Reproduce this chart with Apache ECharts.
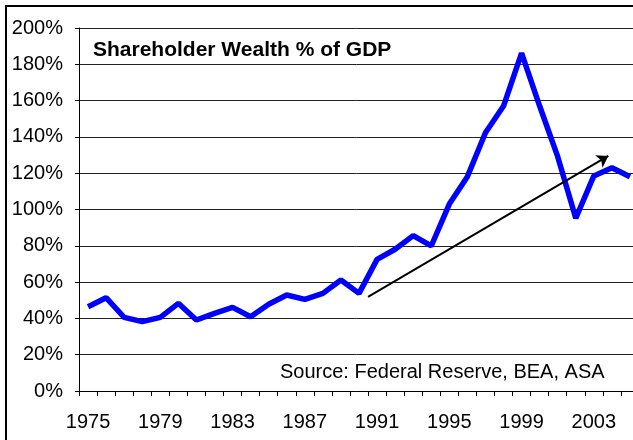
<!DOCTYPE html>
<html>
<head>
<meta charset="utf-8">
<script src="https://cdn.jsdelivr.net/npm/echarts@6/dist/echarts.min.js"></script>
<style>
    html, body { margin: 0; padding: 0; background: #fff; }
    #chart { width: 633px; height: 440px; }
</style>
</head>
<body>
<div id="chart"></div>
<script>
    // years on the category axis
    const years = [1975, 1976, 1977, 1978, 1979, 1980, 1981, 1982, 1983, 1984,
        1985, 1986, 1987, 1988, 1989, 1990, 1991, 1992, 1993, 1994,
        1995, 1996, 1997, 1998, 1999, 2000, 2001, 2002, 2003, 2004, 2005];
    // shareholder wealth as % of GDP
    const wealthPct = [46.4, 51.4, 40.6, 38.2, 40.6, 48.3, 39.1, 42.8, 46.1, 40.9,
        47.8, 52.9, 50.5, 53.8, 61.2, 53.8, 72.5, 78.1, 85.6, 79.9,
        103.0, 118.1, 142.3, 157.0, 186.1, 157.0, 129.1, 95.2, 118.5, 123.0, 118.0];
    // trend arrow, [year, %]
    const arrowFrom = [1990.5, 51.8];
    const arrowTo = [2003.8, 129.5];

    const titleText = 'Shareholder Wealth % of GDP';
    const sourceText = 'Source: Federal Reserve, BEA, ASA';
    const font = 'Liberation Sans, Arial, sans-serif';

    let chart = echarts.init(document.getElementById('chart'));
    chart.setOption({
        animation: false,
        backgroundColor: '#fff',
        grid: {
            left: 79,
            top: 28,
            width: 560,
            height: 363,
            containLabel: false,
            outerBoundsMode: 'none'
        },
        xAxis: [{
            type: 'category',
            data: years,
            boundaryGap: true,
            axisLine: { lineStyle: { color: '#000', width: 1 } },
            axisTick: { show: true, length: 5, interval: 0, lineStyle: { color: '#000' } },
            axisLabel: {
                interval: 3,
                margin: 21,
                color: '#000',
                fontSize: 20,
                fontFamily: font
            },
            splitLine: { show: false }
        }, {
            // hidden numeric axis for the arrow
            type: 'value',
            show: false,
            min: 1974.5,
            max: 2005.5
        }],
        yAxis: {
            type: 'value',
            min: 0,
            max: 200,
            interval: 20,
            axisLine: { show: true, lineStyle: { color: '#000', width: 1 } },
            axisTick: { show: true, length: 4, lineStyle: { color: '#000' } },
            axisLabel: {
                formatter: '{value}%',
                margin: 16,
                color: '#000',
                fontSize: 20,
                fontFamily: font
            },
            splitLine: { show: true, lineStyle: { color: '#222', width: 1 } }
        },
        series: [{
            type: 'line',
            data: wealthPct,
            symbol: 'none',
            lineStyle: { color: '#0000ff', width: 5.5 },
            z: 3
        }, {
            type: 'lines',
            coordinateSystem: 'cartesian2d',
            xAxisIndex: 1,
            yAxisIndex: 0,
            symbol: ['none', 'arrow'],
            symbolSize: 11,
            lineStyle: { color: '#000', width: 2, opacity: 1, curveness: 0 },
            data: [{ coords: [arrowFrom, arrowTo] }],
            z: 4
        }],
        graphic: [
            { // outer border
                type: 'rect',
                shape: { x: 6, y: 6, width: 700, height: 500 },
                style: { fill: 'none', stroke: '#000', lineWidth: 2 },
                silent: true
            },
            {
                type: 'text',
                left: 93,
                top: 40,
                style: { text: titleText, font: 'bold 21px ' + font, fill: '#000' }
            },
            {
                type: 'text',
                left: 280,
                top: 362,
                style: { text: sourceText, font: '20px ' + font, fill: '#000' }
            }
        ]
    });
</script>
</body>
</html>
